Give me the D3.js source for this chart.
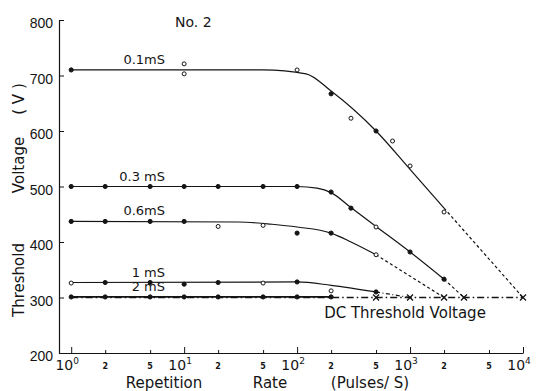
<!DOCTYPE html>
<html>
<head>
<meta charset="utf-8">
<script src="https://cdn.jsdelivr.net/npm/d3@7"></script>
<style>
  html, body { margin: 0; padding: 0; background: #fff; }
  svg { display: block; font-family: "DejaVu Sans", sans-serif; }
</style>
</head>
<body>
<div id="chart"></div>
<script>
// Repetition rate (pulses/s) vs threshold voltage (V)
// markers: [rate, volt, kind]  f = filled, o = open, x = cross
const pts01 = [[1, 710, "f"], [10, 721, "o"], [10, 703, "o"], [100, 710, "o"], [200, 667, "f"],
  [300, 623, "o"], [500, 600, "f"], [700, 582, "o"], [1000, 537, "o"], [2000, 454, "o"]];
const pts03 = [[1, 500, "f"], [2, 500, "f"], [5, 500, "f"], [10, 500, "f"], [20, 500, "f"],
  [50, 500, "f"], [100, 500, "f"], [200, 490, "f"], [300, 461, "f"], [500, 427, "o"],
  [1000, 382, "f"], [2000, 333, "f"]];
const pts06 = [[1, 437, "f"], [2, 437, "f"], [5, 437, "f"], [10, 437, "f"], [20, 428, "o"],
  [50, 430, "o"], [100, 416, "f"], [200, 416, "f"], [500, 377, "o"]];
const pts1 = [[1, 326, "o"], [2, 327, "f"], [5, 327, "f"], [10, 324, "f"], [20, 327, "f"],
  [50, 326, "o"], [100, 328, "f"], [200, 312, "o"], [500, 310, "f"]];
const pts2 = [[1, 301, "f"], [2, 301, "f"], [5, 301, "f"], [10, 301, "f"], [20, 301, "f"],
  [50, 301, "f"], [100, 301, "f"], [200, 301, "f"]];
const ptsDC = [[500, 300, "x"], [1000, 300, "x"], [2000, 300, "x"], [3000, 300, "x"], [10000, 300, "x"]];

// fitted curves
const fit01 = [[1, 710], [50, 710], [120, 703], [200, 672], [500, 600], [1000, 531], [2000, 461]];
const fit01Ext = [[2000, 461], [10000, 300]];
const fit03 = [[1, 500], [100, 500], [150, 497], [200, 489], [300, 462], [500, 428], [1000, 382], [2000, 333]];
const fit03Ext = [[2000, 333], [3000, 300]];
const fit06 = [[1, 437], [30, 436], [60, 432], [100, 427], [200, 416], [300, 400], [500, 377]];
const fit06Ext = [[500, 377], [2000, 300]];
const fit1 = [[1, 327], [100, 328], [200, 322], [500, 310]];
const fit1Ext = [[500, 310], [1000, 300]];
const fit2 = [[1, 301], [200, 301]];
const fitDC = [[1, 300], [10000, 300]];

const majorTicks = [1, 10, 100, 1000, 10000];
const minorTicks = [2, 5, 20, 50, 200, 500, 2000, 5000];
const yTicks = [200, 300, 400, 500, 600, 700, 800];

const seriesLabels = [
  { text: "0.1mS", v: 710 }, { text: "0.3 mS", v: 500 }, { text: "0.6mS", v: 437 },
  { text: "1 mS", v: 327 }, { text: "2 mS", v: 301 }
];

const W = 538, H = 391;
const ink = "#141414";

const svg = d3.select("#chart").append("svg")
  .attr("width", W).attr("height", H);

const x = d3.scaleLog().domain([0.78, 10000]).range([59, 523]);
const y = d3.scaleLinear().domain([200, 800]).range([353, 20]);

// axes
svg.append("g")
  .attr("transform", `translate(0,${y(200)})`)
  .call(d3.axisBottom(x).tickValues(majorTicks).tickSize(-6).tickSizeOuter(0).tickFormat(""));
const xMinor = svg.append("g")
  .attr("transform", `translate(0,${y(200)})`)
  .call(d3.axisBottom(x).tickValues(minorTicks).tickSize(-3).tickSizeOuter(0).tickFormat(""));
xMinor.select(".domain").remove();

const yAxis = svg.append("g")
  .attr("transform", `translate(${x.range()[0]},0)`)
  .call(d3.axisLeft(y).tickValues(yTicks).tickSize(-5).tickSizeOuter(0).tickPadding(6));

svg.selectAll(".domain").attr("stroke", ink).attr("stroke-width", 1.2);
svg.selectAll(".tick line").attr("stroke", ink).attr("stroke-width", 1);
yAxis.selectAll(".tick text")
  .attr("dy", "0.55em")
  .style("font-size", "14px").attr("fill", ink);

// x tick labels: 10^n and small 2 / 5
majorTicks.forEach((t, i) => {
  const tx = svg.append("text")
    .attr("x", x(t) - 4).attr("y", 370)
    .attr("text-anchor", "middle")
    .style("font-size", "14px").attr("fill", ink);
  tx.append("tspan").text("10");
  tx.append("tspan").attr("dy", -6).style("font-size", "9px").text(i);
});
svg.selectAll(".minor-label")
  .data(minorTicks).enter().append("text")
  .attr("class", "minor-label")
  .attr("x", d => x(d)).attr("y", 369)
  .attr("text-anchor", "middle")
  .style("font-size", "8px").style("font-weight", "bold").attr("fill", ink)
  .text(d => String(d)[0]);

// axis titles
svg.append("text").attr("x", 164).attr("y", 388).attr("text-anchor", "middle")
  .style("font-size", "15px").attr("fill", ink).text("Repetition");
svg.append("text").attr("x", 270).attr("y", 388).attr("text-anchor", "middle")
  .style("font-size", "15px").attr("fill", ink).text("Rate");
svg.append("text").attr("x", 370).attr("y", 388).attr("text-anchor", "middle")
  .style("font-size", "15px").attr("fill", ink).text("(Pulses/ S)");

[["Threshold", 280], ["Voltage", 165], ["( V )", 99]].forEach(([s, cy]) => {
  svg.append("text")
    .attr("transform", `translate(24,${cy}) rotate(-90)`)
    .attr("text-anchor", "middle")
    .style("font-size", "15px").attr("fill", ink).text(s);
});

svg.append("text").attr("x", 175).attr("y", 27)
  .style("font-size", "14px").attr("fill", ink).text("No. 2");

// curves
const line = d3.line()
  .x(d => x(d[0])).y(d => y(d[1]))
  .curve(d3.curveMonotoneX);

function drawLine(data, dash, width) {
  svg.append("path")
    .datum(data)
    .attr("d", line)
    .attr("fill", "none")
    .attr("stroke", ink)
    .attr("stroke-width", width || 1.2)
    .attr("stroke-dasharray", dash || null);
}

drawLine(fitDC, "7,3,1.5,3", 1.4);
drawLine(fit2, null, 1.8);
drawLine(fit01); drawLine(fit01Ext, "3,2.5");
drawLine(fit03); drawLine(fit03Ext, "3,2.5");
drawLine(fit06); drawLine(fit06Ext, "3,2.5");
drawLine(fit1); drawLine(fit1Ext, "4,2.5,1,2.5");

// markers
function drawMarkers(data) {
  data.forEach(([r, v, k]) => {
    const cx = x(r), cy = y(v);
    if (k === "x") {
      svg.append("path")
        .attr("d", `M${cx - 3},${cy - 3}L${cx + 3},${cy + 3}M${cx - 3},${cy + 3}L${cx + 3},${cy - 3}`)
        .attr("stroke", ink).attr("stroke-width", 1.3);
    } else {
      svg.append("circle")
        .attr("cx", cx).attr("cy", cy)
        .attr("r", k === "f" ? 2.1 : 2.0)
        .attr("fill", k === "f" ? ink : "#fff")
        .attr("stroke", ink).attr("stroke-width", 1);
    }
  });
}
[pts01, pts03, pts06, pts1, pts2, ptsDC].forEach(drawMarkers);

// series labels
seriesLabels.forEach(d => {
  svg.append("text")
    .attr("x", 165).attr("y", y(d.v) - 6)
    .attr("text-anchor", "end")
    .style("font-size", "13px").attr("fill", ink)
    .text(d.text);
});

svg.append("text").attr("x", 405).attr("y", 318).attr("text-anchor", "middle")
  .style("font-size", "15px").attr("fill", ink).text("DC Threshold Voltage");
</script>
</body>
</html>
